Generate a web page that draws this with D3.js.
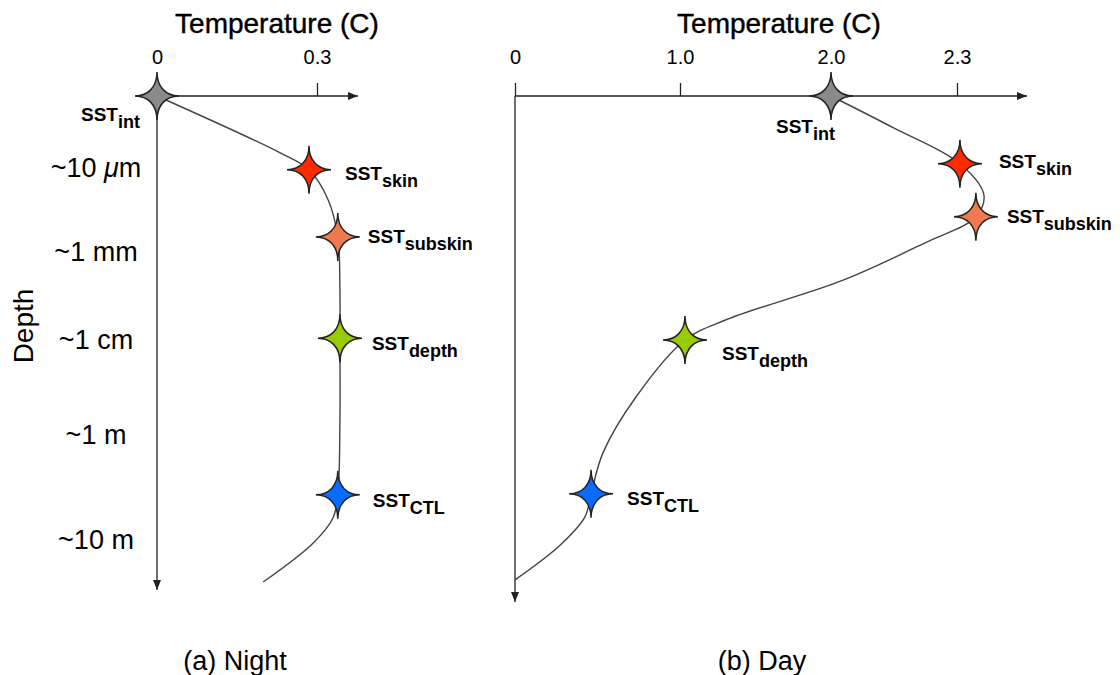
<!DOCTYPE html>
<html>
<head>
<meta charset="utf-8">
<script src="https://cdn.jsdelivr.net/npm/d3@7/dist/d3.min.js"></script>
<style>
    body { margin: 0; background: #fff; }
    text { font-family: "Liberation Sans", Arial, sans-serif; fill: #000; }
</style>
</head>
<body>
<div id="chart"></div>
<script>
// depth levels (schematic, not to scale)
var depthLevels = [1, 2, 3, 4, 5];
var depthLabels = ["~10 \u03bcm", "~1 mm", "~1 cm", "~1 m", "~10 m"];

// temperature axes
var nightTicks = [0, 0.3];
var dayTicks = [0, 1.0, 2.0, 2.3];

// the five SST definitions
var sstNames = ["int", "skin", "subskin", "depth", "CTL"];
var sstColors = ["#8a8a8a", "#ff2a00", "#ef7a50", "#99cc00", "#0a6cff"];

var nightSstTemp = [0, 0.285, 0.339, 0.343, 0.339];
var nightSstDepth = [0, 1.02, 1.82, 2.98, 4.57];
var daySstTemp = [2.0, 2.307, 2.345, 1.033, 0.461];
var daySstDepth = [0, 0.94, 1.58, 3.0, 4.56];

// temperature profiles
var nightProfileTemp = [0, 0.231, 0.285, 0.321, 0.339, 0.343, 0.343, 0.343, 0.339, 0.330, 0.2925, 0.199];
var nightProfileDepth = [0, 0.79, 1.02, 1.38, 1.82, 2.43, 2.98, 3.84, 4.57, 4.79, 5.03, 5.40];
var dayProfileTemp = [2.0, 2.148, 2.307, 2.364, 2.345, 2.224, 2.029, 1.305, 1.033, 0.733, 0.533, 0.461, 0.424, 0.273, 0];
var dayProfileDepth = [0, 0.44, 0.94, 1.32, 1.58, 1.89, 2.32, 2.77, 3.0, 3.6, 4.17, 4.56, 4.78, 5.05, 5.38];

var width = 1120;
var height = 675;

var svg = d3.select("#chart").append("svg")
    .attr("width", width)
    .attr("height", height);

svg.append("defs").append("marker")
    .attr("id", "arrow")
    .attr("viewBox", "0 0 10 10")
    .attr("refX", 10)
    .attr("refY", 5)
    .attr("markerWidth", 10)
    .attr("markerHeight", 10)
    .attr("markerUnits", "userSpaceOnUse")
    .attr("orient", "auto")
    .append("path")
    .attr("d", "M0,1 L10,5 L0,9 Z")
    .attr("fill", "#222");

var y = d3.scaleLinear()
    .domain([0, 1, 2, 3, 4, 5])
    .range([96, 168, 252, 340, 435, 540]);

var xNight = d3.scaleLinear().domain([0, 0.3]).range([157, 317]);
var xDay = d3.scaleLinear().domain([0, 1, 2, 2.3]).range([515, 680, 831, 957]);

var fmt = function (d) { return d === 0 ? "0" : d.toFixed(1); };

// four pointed star with concave sides
function starPath(rx, ry, k) {
    return "M0," + (-ry) +
        " C0," + (-k) + " " + k + ",0 " + rx + ",0" +
        " C" + k + ",0 0," + k + " 0," + ry +
        " C0," + k + " " + (-k) + ",0 " + (-rx) + ",0" +
        " C" + (-k) + ",0 0," + (-k) + " 0," + (-ry) + "Z";
}

// label offsets from each star (layout only)
var nightLabelOffsets = [[-76, 25], [36, 10], [30, 6], [32, 12], [35, 12]];
var dayLabelOffsets = [[-55, 37], [39, 4], [31, 6], [37, 20], [36, 11]];

function drawPanel(opts) {
    var g = svg.append("g");
    var x = opts.x;

    // title
    g.append("text")
        .attr("x", opts.titleX)
        .attr("y", 33)
        .attr("text-anchor", "middle")
        .style("font-size", "28px")
        .style("stroke", "#000")
        .style("stroke-width", 0.4)
        .text("Temperature (C)");

    // temperature axis
    var axis = d3.axisTop(x)
        .tickValues(opts.ticks)
        .tickFormat(fmt)
        .tickSize(13)
        .tickPadding(19)
        .tickSizeOuter(0);
    var ax = g.append("g")
        .attr("transform", "translate(0," + y(0) + ")")
        .call(axis);
    ax.select(".domain").remove();
    ax.selectAll(".tick line").attr("stroke", "#222").attr("stroke-width", 1.3);
    ax.selectAll(".tick text")
        .style("font-size", "20px")
        .style("font-family", "'Liberation Sans Narrow', 'Liberation Sans', sans-serif")
        .attr("fill", "#333");

    g.append("line")
        .attr("x1", x(0)).attr("y1", y(0))
        .attr("x2", opts.xEnd).attr("y2", y(0))
        .attr("stroke", "#222").attr("stroke-width", 1.3)
        .attr("marker-end", "url(#arrow)");
    g.append("line")
        .attr("x1", x(0)).attr("y1", y(0))
        .attr("x2", x(0)).attr("y2", opts.yEnd)
        .attr("stroke", "#222").attr("stroke-width", 1.3)
        .attr("marker-end", "url(#arrow)");

    // profile
    var pts = opts.profileTemp.map(function (t, i) { return [t, opts.profileDepth[i]]; });
    var line = d3.line()
        .x(function (d) { return x(d[0]); })
        .y(function (d) { return y(d[1]); })
        .curve(d3.curveCatmullRom.alpha(0.5));
    g.append("path")
        .datum(pts)
        .attr("d", line)
        .attr("fill", "none")
        .attr("stroke", "#444")
        .attr("stroke-width", 1.4);

    // stars
    var sst = sstNames.map(function (n, i) {
        return { name: n, color: sstColors[i], t: opts.sstTemp[i], d: opts.sstDepth[i], off: opts.offsets[i] };
    });
    g.selectAll(".star")
        .data(sst)
        .enter().append("path")
        .attr("class", "star")
        .attr("transform", function (d) { return "translate(" + x(d.t) + "," + y(d.d) + ")"; })
        .attr("d", starPath(22, 24, 9))
        .attr("fill", function (d) { return d.color; })
        .attr("stroke", "#222")
        .attr("stroke-width", 1.5)
        .attr("stroke-linejoin", "miter");

    var lbl = g.selectAll(".sst")
        .data(sst)
        .enter().append("text")
        .attr("class", "sst")
        .attr("x", function (d) { return x(d.t) + d.off[0]; })
        .attr("y", function (d) { return y(d.d) + d.off[1]; })
        .style("font-weight", "bold");
    lbl.append("tspan").style("font-size", "19px").text("SST");
    lbl.append("tspan").style("font-size", "18px").attr("dy", 7).text(function (d) { return d.name; });

    // caption
    g.append("text")
        .attr("x", opts.captionX)
        .attr("y", 670)
        .attr("text-anchor", "middle")
        .style("font-size", "27px")
        .text(opts.caption);
}

drawPanel({
    x: xNight, ticks: nightTicks, titleX: 277, xEnd: 358, yEnd: 590,
    profileTemp: nightProfileTemp, profileDepth: nightProfileDepth,
    sstTemp: nightSstTemp, sstDepth: nightSstDepth, offsets: nightLabelOffsets,
    caption: "(a) Night", captionX: 235
});
drawPanel({
    x: xDay, ticks: dayTicks, titleX: 779, xEnd: 1027, yEnd: 602,
    profileTemp: dayProfileTemp, profileDepth: dayProfileDepth,
    sstTemp: daySstTemp, sstDepth: daySstDepth, offsets: dayLabelOffsets,
    caption: "(b) Day", captionX: 762
});

// depth axis labels
var depthText = svg.selectAll(".depth")
    .data(depthLevels)
    .enter().append("text")
    .attr("class", "depth")
    .attr("x", 96)
    .attr("y", function (d) { return y(d); })
    .attr("dy", "0.35em")
    .attr("text-anchor", "middle")
    .style("font-size", "27px");
depthText.each(function (d, i) {
    var parts = depthLabels[i].split("\u03bc");
    var t = d3.select(this);
    t.append("tspan").text(parts[0]);
    if (parts.length > 1) {
        t.append("tspan").style("font-style", "italic").text("\u03bc");
        t.append("tspan").text(parts[1]);
    }
});

svg.append("text")
    .attr("transform", "translate(33,326) rotate(-90)")
    .attr("text-anchor", "middle")
    .style("font-size", "28px")
    .text("Depth");
</script>
</body>
</html>
